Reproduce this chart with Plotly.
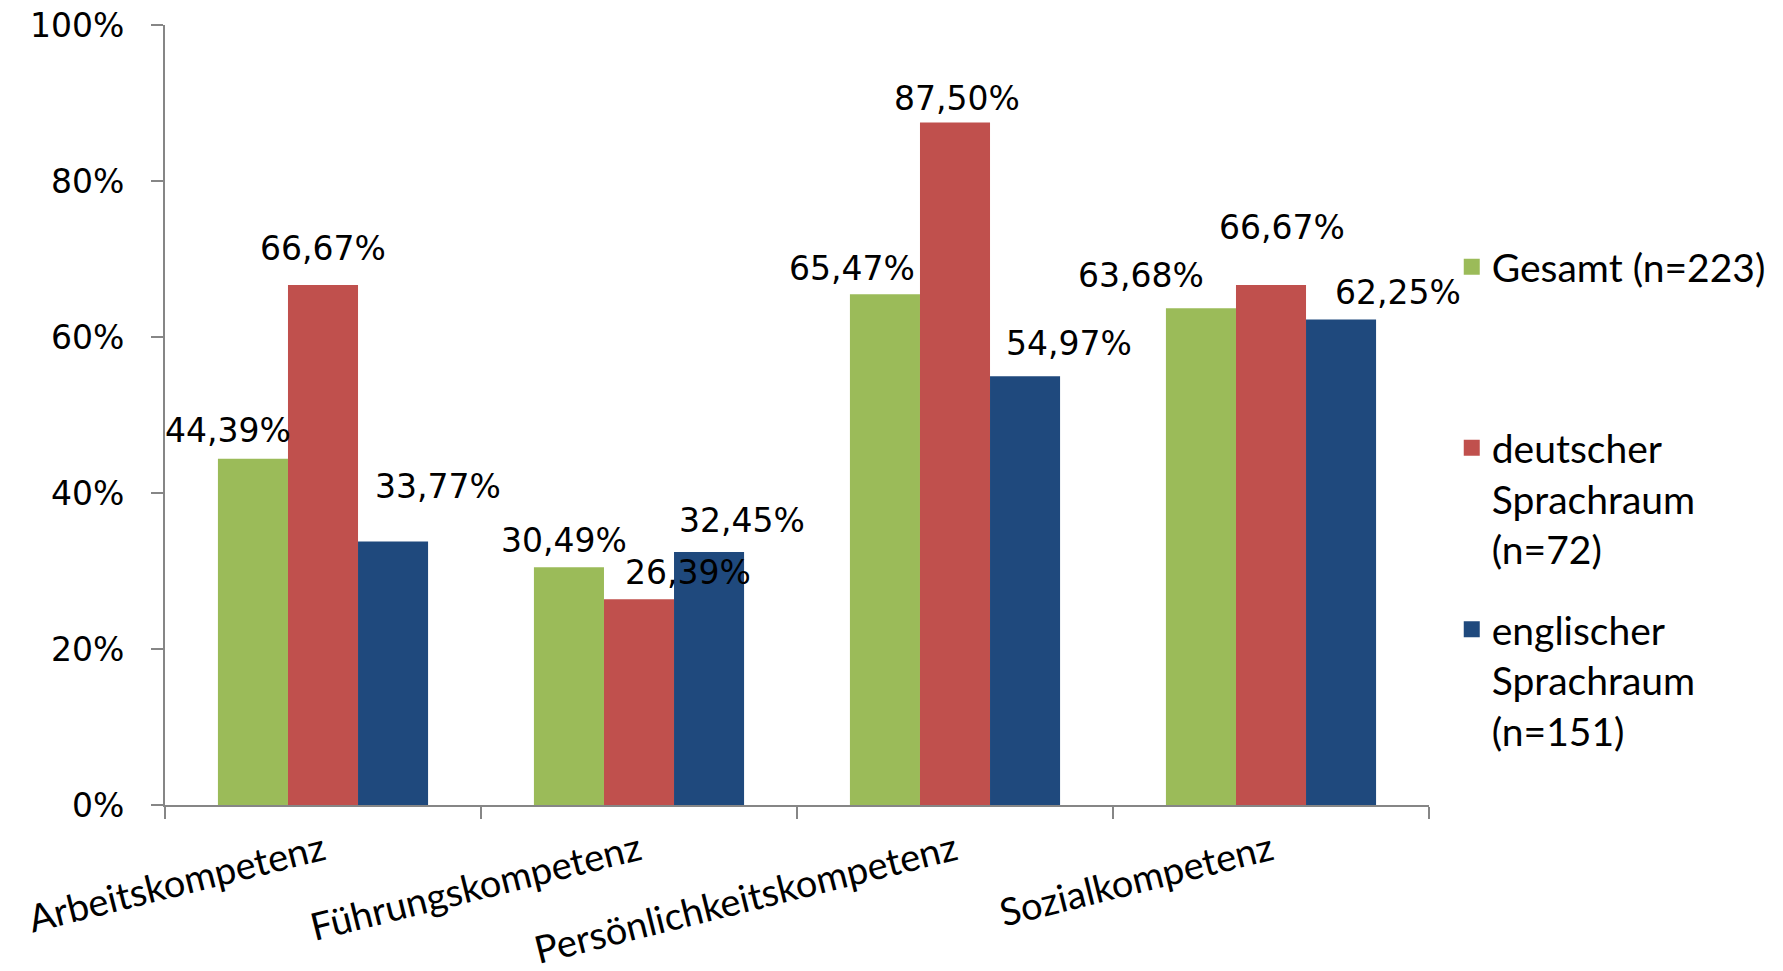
import plotly.graph_objects as go

categories = ["Arbeitskompetenz", "Führungskompetenz", "Persönlichkeitskompetenz", "Sozialkompetenz"]
series_names = ["Gesamt (n=223)", "deutscher<br>Sprachraum<br>(n=72)", "englischer<br>Sprachraum<br>(n=151)"]
gesamt = [0.4439, 0.3049, 0.6547, 0.6368]
deutsch = [0.6667, 0.2639, 0.8750, 0.6667]
englisch = [0.3377, 0.3245, 0.5497, 0.6225]
colors = ["#9BBB59", "#C0504D", "#1F497D"]
y_ticks = [0, 0.2, 0.4, 0.6, 0.8, 1.0]
y_ticklabels = ["0%", "20%", "40%", "60%", "80%", "100%"]

# label nudges (pixels) relative to each bar top, per series / category
label_dx = [[-25, -5, -33, -60], [0, 49, 2, 11], [45, 33, 44, 57]]
label_dy = [[28, 27, 26, 33], [36, 27, 24, 57], [55, 31, 33, 27]]

series = [gesamt, deutsch, englisch]

def fmt(v):
    return f"{v*100:.2f}".replace(".", ",") + "%"

fig = go.Figure()
legend_ids = ["legend", "legend2", "legend3"]
for i, (name, vals) in enumerate(zip(series_names, series)):
    fig.add_trace(go.Bar(
        x=categories, y=vals, name=name,
        marker=dict(color=colors[i], line=dict(width=0)),
        offsetgroup=str(i), legendgroup=str(i), showlegend=False,
        hoverinfo="skip",
    ))
    # legend entry with a larger square swatch
    fig.add_trace(go.Scatter(
        x=[None], y=[None], mode="markers", name=name,
        marker=dict(symbol="square", size=22, color=colors[i]),
        legendgroup=str(i), legend=legend_ids[i], showlegend=True,
        hoverinfo="skip",
    ))

bargap = 0.335
bw = (1 - bargap) / 3
annotations = []
for i, vals in enumerate(series):
    off = (i - 1) * bw
    for j, v in enumerate(vals):
        annotations.append(dict(
            x=j + off, y=v, xref="x", yref="y", text=fmt(v),
            showarrow=False, xanchor="center", yanchor="middle",
            xshift=label_dx[i][j], yshift=label_dy[i][j],
            font=dict(family="DejaVu Sans", size=33, color="#000000"),
        ))

legend_font = dict(family="Lato", size=39, color="#000000")
leg_y = [0.731, 0.499, 0.266]
legends = {}
for k, lid in enumerate(legend_ids):
    legends[lid] = dict(
        x=1.018, y=leg_y[k], xanchor="left", yanchor="top",
        font=legend_font, bgcolor="rgba(0,0,0,0)", valign="top",
        itemsizing="trace", itemwidth=30,
    )

fig.update_layout(
    width=1783, height=971,
    margin=dict(l=165, r=354, t=25, b=166),
    paper_bgcolor="white", plot_bgcolor="white",
    barmode="group", bargap=bargap, bargroupgap=0,
    annotations=annotations,
    showlegend=True,
    **legends,
)

fig.update_xaxes(
    type="category", range=[-0.5, 3.5], automargin=False,
    showline=True, linecolor="#868686", linewidth=2,
    ticks="outside", tickson="boundaries", ticklen=12, tickcolor="#868686", tickwidth=2,
    tickangle=-14, showgrid=False, zeroline=False, ticklabelstandoff=7,
    tickfont=dict(family="Lato", size=38, color="#000000"),
)
fig.update_yaxes(
    range=[0, 1], tickvals=y_ticks, ticktext=y_ticklabels, automargin=False,
    showline=True, linecolor="#868686", linewidth=2,
    ticks="outside", ticklen=12, tickcolor="#868686", tickwidth=2,
    showgrid=False, zeroline=False, ticklabelstandoff=20,
    tickfont=dict(family="DejaVu Sans", size=33, color="#000000"),
)

fig.write_html("out.html", config={"displayModeBar": False},
               post_script="document.body.style.margin='0';document.body.style.overflow='hidden';")
